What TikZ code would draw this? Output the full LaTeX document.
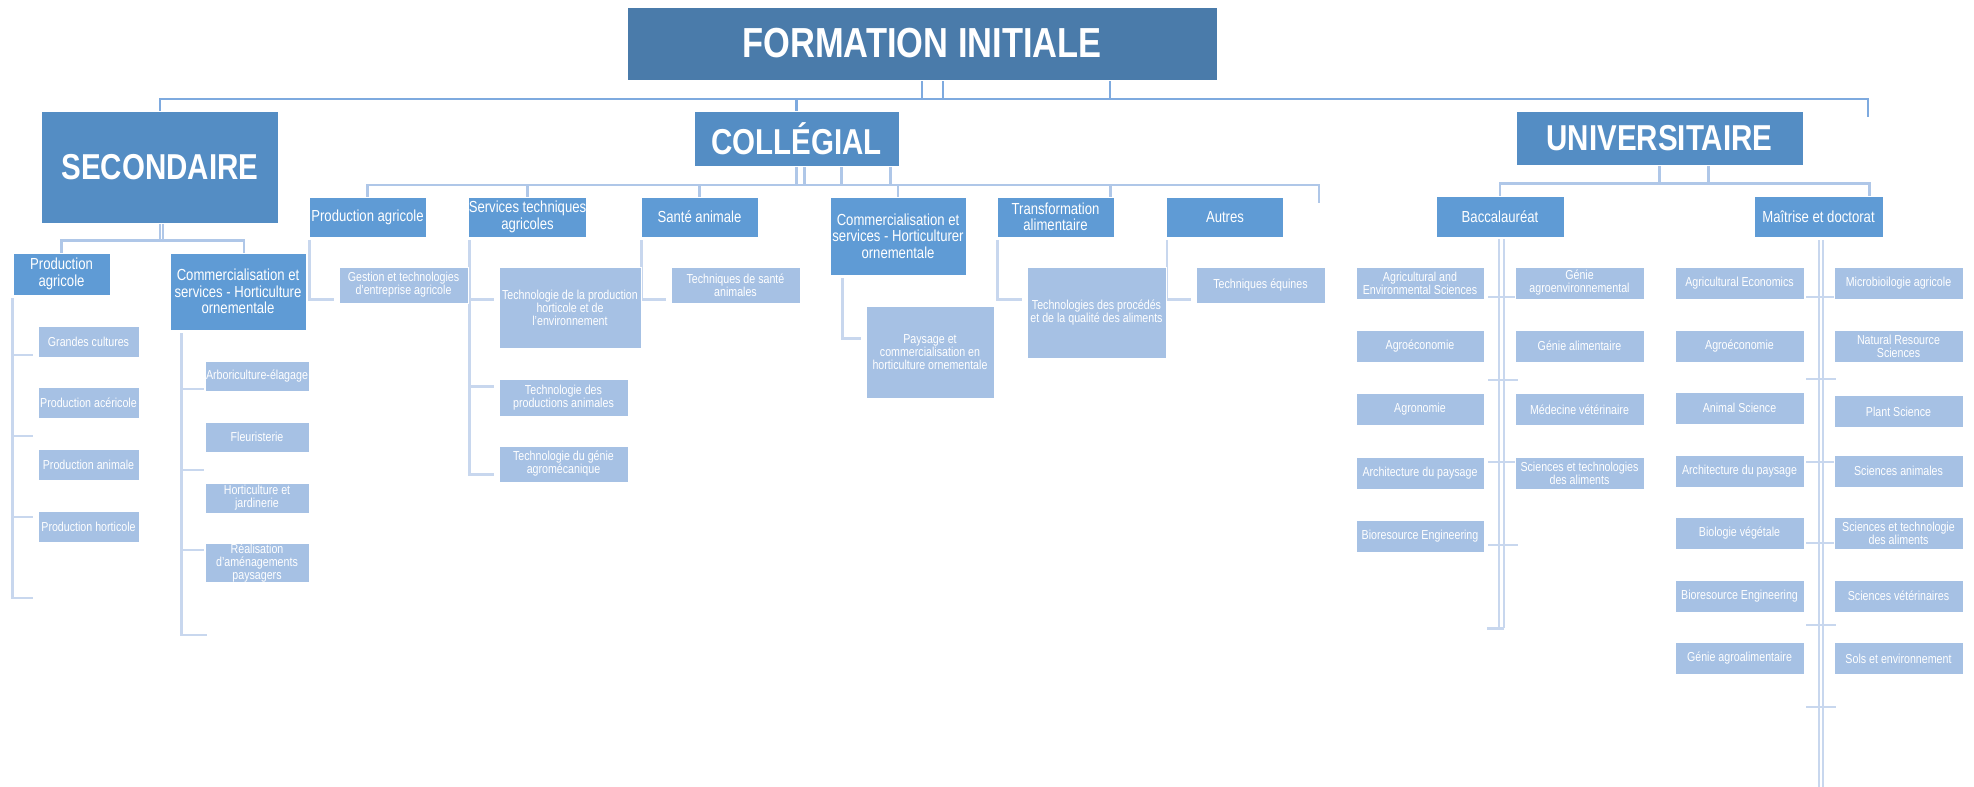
\documentclass[tikz,border=0pt]{standalone}
\usepackage{fontspec}
\setmainfont{Liberation Sans}[FakeStretch=0.82]
\usetikzlibrary{calc,backgrounds}
\definecolor{fitop}{HTML}{4A7BAA}
\definecolor{filevel}{HTML}{548DC4}
\definecolor{figroup}{HTML}{5F9BD5}
\definecolor{fileaf}{HTML}{A6C1E4}
\definecolor{filine}{HTML}{7EAADF}
\definecolor{fibus}{HTML}{AFC7E8}
\definecolor{fistem}{HTML}{C8D7EE}
\tikzset{
  topbox/.style={fill=fitop,draw=white,line width=0.8pt,text=white,inner sep=0pt,
    font=\fontsize{42}{44}\selectfont\bfseries},
  levelbox/.style={fill=filevel,draw=white,line width=0.8pt,text=white,inner sep=0pt,
    font=\fontsize{36}{38}\selectfont\bfseries},
  groupbox/.style={fill=figroup,draw=white,line width=0.8pt,text=white,inner sep=0pt,
    align=center,minimum width=117pt,minimum height=40pt,font=\fontsize{16}{16.5}\selectfont},
  leafbox/.style={fill=fileaf,draw=white,line width=0.8pt,text=white,inner sep=0pt,
    align=center,minimum width=129pt,minimum height=32pt,font=\fontsize{13}{13}\selectfont},
  toplink/.style={draw=filine,line width=2.6pt},
  buslink/.style={draw=fibus,line width=2.6pt},
  stemlink/.style={draw=fistem,line width=2.6pt},
}

\begin{document}
\begin{tikzpicture}[x=1pt,y=-1pt]
  \path[use as bounding box] (0,0) rectangle (1974,787);
  \node[topbox,minimum width=590pt,minimum height=73pt] (form) at (922,43.5) {FORMATION INITIALE};
  \node[levelbox,minimum width=237pt,minimum height=112pt] (sec) at (160,167) {SECONDAIRE};
  \node[levelbox,minimum width=205pt,minimum height=55pt] (coll) at (796.5,138.5) {COLLÉGIAL};
  \node[levelbox,minimum width=287pt,minimum height=54pt] (univ) at (1659.5,138) {UNIVERSITAIRE};
  % secondaire
  \node[groupbox,minimum width=97pt,minimum height=42pt] (spagri) at (61.5,274) {Production\\agricole};
  \node[groupbox,minimum width=136pt,minimum height=77pt] (scomm) at (238,291.5)
    {Commercialisation et\\services - Horticulture\\ornementale};
  \foreach \i/\y/\t in {1/341.5/Grandes cultures,2/402.5/Production acéricole,
      3/464.5/Production animale,4/526.5/Production horticole}
    {\node[leafbox,minimum width=101pt,minimum height=31pt] (sp\i) at (88.5,\y) {\t};}
  \foreach \i/\y/\h/\t in {1/376/30/Arboriculture-élagage,2/437/30/Fleuristerie,
      3/498/30/{Horticulture et\\jardinerie},4/563/36/{Réalisation\\d'aménagements\\paysagers}}
    {\node[leafbox,minimum width=104pt,minimum height=\h pt] (sc\i) at (257,\y) {\t};}
  % collegial
  \foreach \n/\x/\t in {cpagri/367.5/Production agricole,cserv/527.5/{Services techniques\\agricoles},
      csante/699.5/Santé animale,ctrans/1055.5/{Transformation\\alimentaire},cautres/1225/Autres}
    {\node[groupbox] (\n) at (\x,217) {\t};}
  \node[groupbox,minimum width=136pt,minimum height=78pt] (ccomm) at (898,236)
    {Commercialisation et\\services - Horticulturer\\ornementale};
  \node[leafbox,minimum height=36pt] (gestion) at (403.5,285) {Gestion et technologies\\d'entreprise agricole};
  \node[leafbox,minimum width=142pt,minimum height=81pt] (thort) at (570,307.5)
    {Technologie de la production\\horticole et de\\l'environnement};
  \node[leafbox,minimum height=37pt] (tanim) at (563.5,397.5) {Technologie des\\productions animales};
  \node[leafbox,minimum height=36pt] (tgenie) at (563.5,464) {Technologie du génie\\agromécanique};
  \node[leafbox,minimum height=36pt] (tsante) at (735.5,285) {Techniques de santé\\animales};
  \node[leafbox,minimum width=128pt,minimum height=92pt] (paysage) at (930,352)
    {Paysage et\\commercialisation en\\horticulture ornementale};
  \node[leafbox,minimum width=139pt,minimum height=91pt] (tproc) at (1096.5,312.5)
    {Technologies des procédés\\et de la qualité des aliments};
  \node[leafbox,minimum height=36pt] (tequin) at (1260.5,285) {Techniques équines};
  % universitaire
  \node[groupbox,minimum width=128pt,minimum height=41pt] (ubac) at (1500,216.5) {Baccalauréat};
  \node[groupbox,minimum width=129pt,minimum height=41pt] (umaitrise) at (1818.5,216.5) {Maîtrise et doctorat};
  \foreach \i/\y/\t in {1/283/{Agricultural and\\Environmental Sciences},2/346/Agroéconomie,
      3/409.5/Agronomie,4/473/Architecture du paysage,5/536/Bioresource Engineering}
    {\node[leafbox,minimum width=128pt] (bg\i) at (1420,\y) {\t};}
  \foreach \i/\y/\t in {1/283/{Génie\\agroenvironnemental},2/346/Génie alimentaire,
      3/409.5/Médecine vétérinaire,4/473/{Sciences et technologies\\des aliments}}
    {\node[leafbox] (bd\i) at (1579.5,\y) {\t};}
  \foreach \i/\y/\t in {1/283/Agricultural Economics,2/346/Agroéconomie,3/408/Animal Science,
      4/471/Architecture du paysage,5/533/Biologie végétale,6/596/Bioresource Engineering,
      7/658.5/Génie agroalimentaire}
    {\node[leafbox] (mg\i) at (1739.5,\y) {\t};}
  \foreach \i/\y/\t in {1/283/Microbioilogie agricole,2/346/{Natural Resource\\Sciences},
      3/411.5/Plant Science,4/471/Sciences animales,5/533/{Sciences et technologie\\des aliments},
      6/596/Sciences vétérinaires,7/658.5/Sols et environnement}
    {\node[leafbox] (md\i) at (1898.5,\y) {\t};}

  \begin{scope}[on background layer]
    % niveau 1
    \coordinate (busR) at (1868,99);
    \draw[toplink] (sec.north) |- (busR) -- ++(0,18);
    \draw[toplink] (coll.north) -- (coll.north |- busR);
    \foreach \s in {0,21,188} {\draw[toplink] ($(form.south)+(\s,0)$) -- ++(0,19);}
    % secondaire
    \foreach \s in {0,3} {\draw[buslink] ($(sec.south)+(\s,0)$) -- ++(0,18);}
    \draw[buslink] (spagri.north) -- ++(0,-12) -| ($(scomm.north)+(6,0)$);
    \draw[stemlink] ([yshift=-3pt]spagri.south west) -- (spagri.south west |- 0,598) -- ++(20,0);
    \foreach \y in {355,436,517} {\draw[stemlink] (spagri.south west |- 0,\y) -- ++(20,0);}
    \coordinate (sct) at ([xshift=12pt,yshift=-3pt]scomm.south west);
    \draw[stemlink] (sct) -- (sct |- 0,635) -- ++(25,0);
    \foreach \y in {389,470,550} {\draw[stemlink] (sct |- 0,\y) -- ++(22,0);}
    % collegial
    \coordinate (cbusR) at (1319,185);
    \draw[buslink] (cpagri.north) |- (cbusR) -- ++(0,18);
    \foreach \n in {cserv,csante,ccomm} {\draw[buslink] (\n.north) -- (\n.north |- cbusR);}
    \draw[buslink] ([xshift=-4pt]ctrans.north east) -- ++(0,-12);
    \foreach \s in {0,8,45,94} {\draw[buslink] ($(coll.south)+(\s,0)$) -- ++(0,19);}
    \foreach \p/\c/\s in {cpagri/gestion/1,cserv/thort/1,csante/tsante/1,ccomm/paysage/13,
        ctrans/tproc/1,cautres/tequin/1}
      {\draw[stemlink] ([xshift=\s pt,yshift=-3pt]\p.south west) |- ([xshift=-5pt,yshift=-33pt]\c.north west);}
    \draw[stemlink] ([xshift=1pt,yshift=-3pt]cserv.south west) |- ([xshift=-5pt,yshift=-29pt]tgenie.north west);
    \draw[stemlink] ([xshift=-5pt,yshift=-8pt]tanim.north west) -- ++(-24,0);
    % universitaire
    \foreach \s in {0,49} {\draw[buslink] ($(univ.south)+(\s,0)$) -- ++(0,19);}
    \draw[buslink] (ubac.north) -- ++(0,-12) -| ([xshift=-14pt]umaitrise.north east);
    \foreach \s in {-1,4} {\draw[stemlink] ($(ubac.south)+(\s,2)$) -- ++(0,389);}
    \draw[stemlink] ($(ubac.south)+(4,391)$) -- ++(-17,0);
    \foreach \y in {297,380,462,545} {\draw[stemlink] (ubac.south |- 0,\y) ++(-12,0) -- ++(30,0);}
    \foreach \s in {0.5,4.5} {\draw[stemlink] ($(umaitrise.south)+(\s,3)$) -- ($(umaitrise.south)+(\s,550)$);}
    \foreach \y in {297,379,462,543,625,707} {\draw[stemlink] (umaitrise.south |- 0,\y) ++(-12.5,0) -- ++(30,0);}
  \end{scope}
\end{tikzpicture}
\end{document}
